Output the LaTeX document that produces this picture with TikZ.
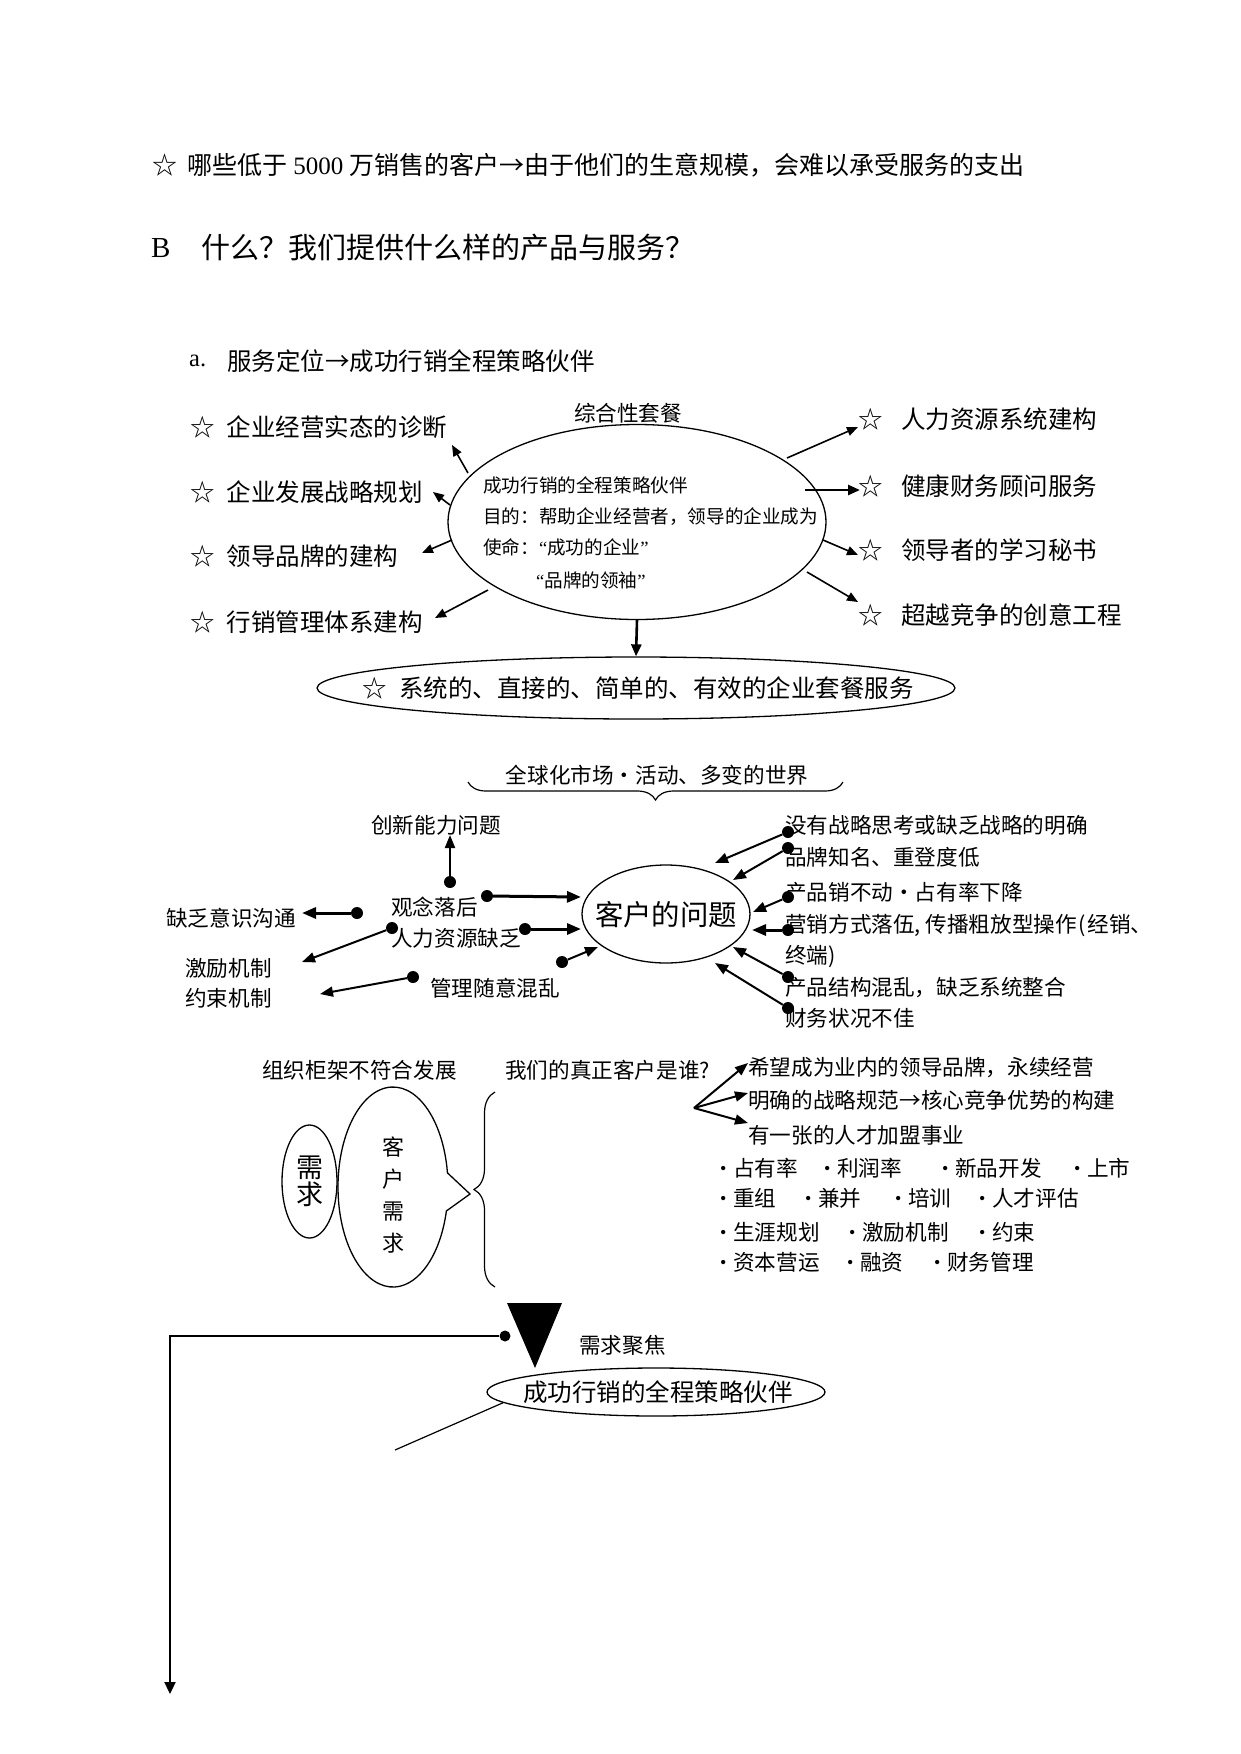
\documentclass[tikz,border=0pt]{standalone}
\usepackage{fontspec}
\setmainfont{Noto Sans CJK SC}
\newfontfamily\lat{Liberation Serif}
\usetikzlibrary{arrows.meta,shapes.geometric,shapes.callouts,decorations.pathreplacing}
\newcommand\fsA{\fontsize{24.5pt}{24.5pt}\selectfont}
\newcommand\fsH{\fontsize{25pt}{25pt}\selectfont}
\newcommand\fsB{\fontsize{29pt}{29pt}\selectfont}
\newcommand\fsS{\fontsize{21.6pt}{21.6pt}\selectfont}
\newcommand\fsT{\fontsize{18.6pt}{18.6pt}\selectfont}
\newcommand\fsP{\fontsize{28.4pt}{28.4pt}\selectfont}
\newcommand\bul{\makebox[13pt][l]{\raisebox{2pt}{\fontsize{18pt}{18pt}\selectfont\lat •}}}
\begin{document}
\begin{tikzpicture}[x=1pt,y=-1pt,
  txt/.style={inner sep=0pt,anchor=west},
  ctxt/.style={inner sep=0pt,anchor=center},
  arr/.style={line width=1.6pt,-{Triangle[length=11pt,width=9pt]}},
  arrb/.style={line width=2.6pt,-{Triangle[length=12pt,width=10pt]}},
  parr/.style={line width=2pt,-{Triangle[length=13pt,width=10pt]}},
  parrb/.style={line width=3pt,-{Triangle[length=14pt,width=11pt]}},
  dotn/.style={circle,fill,inner sep=0pt,minimum size=12pt},
  ell/.style={ellipse,draw,line width=1.3pt,inner sep=0pt},
  brc/.style={line width=1.2pt,decorate},
]
\useasboundingbox (0,0) rectangle (1241,1754);
\fill[white] (0,0) rectangle (1241,1754);

% ---------- header lines ----------
\node[txt,font=\fsH] (t1) at (152,165) {☆\hspace{0.4em}哪些低于\hspace{0.25em}{\lat 5000}\hspace{0.25em}万销售的客户→由于他们的生意规模，会难以承受服务的支出};
\node[txt,font={\fsB\lat}] (tB) at (151,248) {B};
\node[txt,font=\fsB] (tB2) at (201,248) {什么？我们提供什么样的产品与服务？};
\node[txt,font={\fsA\lat}] (ta) at (189,361) {a.};
\node[txt,font=\fsA] (ta2) at (227,361) {服务定位→成功行销全程策略伙伴};

% ---------- part 1 ----------
\node[ctxt,font=\fsS] (zh) at (628,413) {综合性套餐};
\node[ell,minimum width=378pt,minimum height=195pt] (E) at (637,522) {};
\node[txt,font=\fsT] (e1) at (483,485) {成功行销的全程策略伙伴};
\node[txt,font=\fsT] (e2) at (483,517) {目的：帮助企业经营者，领导的企业成为};
\node[txt,font=\fsT] (e3) at (483,547) {使命：{\lat “}成功的企业{\lat ”}};
\node[txt,font=\fsT] (e4) at (536,580) {{\lat “}品牌的领袖{\lat ”}};

\node[txt,font=\fsA] (L1) at (190,427) {☆\hspace{0.5em}企业经营实态的诊断};
\node[txt,font=\fsA] (L2) at (190,492) {☆\hspace{0.5em}企业发展战略规划};
\node[txt,font=\fsA] (L3) at (190,556) {☆\hspace{0.5em}领导品牌的建构};
\node[txt,font=\fsA] (L4) at (190,622) {☆\hspace{0.5em}行销管理体系建构};
\node[txt,font=\fsA] (R1) at (858,419) {☆\hspace{0.75em}人力资源系统建构};
\node[txt,font=\fsA] (R2) at (858,486) {☆\hspace{0.75em}健康财务顾问服务};
\node[txt,font=\fsA] (R3) at (858,550) {☆\hspace{0.75em}领导者的学习秘书};
\node[txt,font=\fsA] (R4) at (858,615) {☆\hspace{0.75em}超越竞争的创意工程};

\coordinate (l1s) at (468,473); \coordinate (l1e) at (452,445);
\coordinate (l2s) at (450,505); \coordinate (l2e) at (433,492);
\coordinate (l3s) at (452,540); \coordinate (l3e) at (422,553);
\coordinate (l4s) at (488,590); \coordinate (l4e) at (435,618);
\coordinate (r1s) at (787,458); \coordinate (r1e) at (858,427);
\coordinate (r2s) at (805,490); \coordinate (r2e) at (860,490);
\coordinate (r3s) at (823,540); \coordinate (r3e) at (858,555);
\coordinate (r4s) at (807,572); \coordinate (r4e) at (858,602);
\draw[arr] (l1s) -- (l1e);
\draw[arr] (l2s) -- (l2e);
\draw[arr] (l3s) -- (l3e);
\draw[arr] (l4s) -- (l4e);
\draw[arr] (r1s) -- (r1e);
\draw[arrb] (r2s) -- (r2e);
\draw[arr] (r3s) -- (r3e);
\draw[arr] (r4s) -- (r4e);

\node[ell,minimum width=638pt,minimum height=62pt] (S) at (636,688) {};
\node[ctxt,font=\fsA] (St) at (638,688) {☆\hspace{0.5em}系统的、直接的、简单的、有效的企业套餐服务};
\draw[arrb] (E.south) -- (S.north);

% ---------- part 2 ----------
\node[ctxt,font=\fsS] (gl) at (657,775) {全球化市场・活动、多变的世界};
\draw[brc,decoration={brace,mirror,amplitude=18pt}] (468,782) -- (843,782);

\node[ell,minimum width=168pt,minimum height=98pt] (P) at (666,914) {};
\node[ctxt,font=\fsP] (Pt) at (666,915) {客户的问题};

\node[ctxt,font=\fsS] (cx) at (436,825) {创新能力问题};
\node[txt,font=\fsS] (gn) at (391,907) {观念落后};
\node[txt,font=\fsS] (qf) at (166,918) {缺乏意识沟通};
\node[txt,font=\fsS] (rl) at (391,938) {人力资源缺乏};
\node[txt,font=\fsS] (jl) at (185,968) {激励机制};
\node[txt,font=\fsS] (ys) at (185,998) {约束机制};
\node[txt,font=\fsS] (gl2) at (430,988) {管理随意混乱};

\node[dotn] (d0) at (450,882) {};  \coordinate (d0e) at (450,835);
\node[dotn] (d1) at (487,896) {};  \coordinate (d1e) at (581,897);
\node[dotn] (d2) at (357,913) {};  \coordinate (d2e) at (302,913);
\node[dotn] (d3) at (392,928) {};  \coordinate (d3e) at (302,962);
\node[dotn] (d4) at (525,929) {};  \coordinate (d4e) at (581,929);
\node[dotn] (d5) at (413,977) {};  \coordinate (d5e) at (320,994);
\node[dotn] (d6) at (562,962) {};  \coordinate (d6e) at (598,947);
\draw[parr] (d0) -- (d0e);
\draw[parrb] (d1) -- (d1e);
\draw[parrb] (d2) -- (d2e);
\draw[parr] (d3) -- (d3e);
\draw[parrb] (d4) -- (d4e);
\draw[parr] (d5) -- (d5e);
\draw[parr] (d6) -- (d6e);

\node[txt,font=\fsS] (q1) at (785,825) {没有战略思考或缺乏战略的明确};
\node[txt,font=\fsS] (q2) at (785,857) {品牌知名、重登度低};
\node[txt,font=\fsS] (q3) at (785,892) {产品销不动・占有率下降};
\node[txt,font=\fsS] (q4) at (785,925) {营销方式落伍\makebox[0.5em][l]{,}传播粗放型操作\makebox[0.5em][c]{(}经销、};
\node[txt,font=\fsS] (q5) at (785,957) {终端)};
\node[txt,font=\fsS] (q6) at (785,988) {产品结构混乱，缺乏系统整合};
\node[txt,font=\fsS] (q7) at (785,1018) {财务状况不佳};

\node[dotn] (k1) at (788,832) {};  \coordinate (k1e) at (715,863);
\node[dotn] (k2) at (788,848) {};  \coordinate (k2e) at (733,880);
\node[dotn] (k3) at (788,897) {};  \coordinate (k3e) at (753,912);
\node[dotn] (k4) at (788,930) {};  \coordinate (k4e) at (752,930);
\node[dotn] (k5) at (788,977) {};  \coordinate (k5e) at (733,947);
\node[dotn] (k6) at (788,1008) {}; \coordinate (k6e) at (715,963);
\draw[parr] (k1) -- (k1e);
\draw[parr] (k2) -- (k2e);
\draw[parr] (k3) -- (k3e);
\draw[parrb] (k4) -- (k4e);
\draw[parr] (k5) -- (k5e);
\draw[parr] (k6) -- (k6e);

% ---------- part 3 ----------
\node[txt,font=\fsS] (zz) at (262,1070) {组织柜架不符合发展};
\node[txt,font=\fsS] (wm) at (505,1070) {我们的真正客户是谁?};

\coordinate (wo) at (694,1108);
\coordinate (w1e) at (748,1063);
\coordinate (w2e) at (748,1093);
\coordinate (w3e) at (748,1123);
\draw[parr] (wo) -- (w1e);
\draw[parr] (wo) -- (w2e);
\draw[parr] (wo) -- (w3e);
\node[txt,font=\fsS] (W1) at (748,1068) {希望成为业内的领导品牌，永续经营};
\node[txt,font=\fsS] (W2) at (748,1100) {明确的战略规范→核心竞争优势的构建};
\node[txt,font=\fsS] (W3) at (748,1135) {有一张的人才加盟事业};

\node[txt,font=\fsS] (b11) at (720,1168) {\bul 占有率};
\node[txt,font=\fsS] (b12) at (824,1168) {\bul 利润率};
\node[txt,font=\fsS] (b13) at (942,1168) {\bul 新品开发};
\node[txt,font=\fsS] (b14) at (1074,1168) {\bul 上市};
\node[txt,font=\fsS] (b21) at (720,1198) {\bul 重组};
\node[txt,font=\fsS] (b22) at (805,1198) {\bul 兼并};
\node[txt,font=\fsS] (b23) at (895,1198) {\bul 培训};
\node[txt,font=\fsS] (b24) at (979,1198) {\bul 人才评估};
\node[txt,font=\fsS] (b31) at (720,1232) {\bul 生涯规划};
\node[txt,font=\fsS] (b32) at (849,1232) {\bul 激励机制};
\node[txt,font=\fsS] (b33) at (979,1232) {\bul 约束};
\node[txt,font=\fsS] (b41) at (720,1262) {\bul 资本营运};
\node[txt,font=\fsS] (b42) at (847,1262) {\bul 融资};
\node[txt,font=\fsS] (b43) at (934,1262) {\bul 财务管理};

\node[ell,minimum width=55pt,minimum height=113pt] (N) at (309.5,1181.5) {};
\node[ctxt,font={\fontsize{27pt}{27pt}\selectfont},align=center] (Nt) at (309.5,1181.5) {需\\求};
\node[ellipse callout,draw,line width=1.3pt,inner sep=0pt,minimum width=110pt,minimum height=200pt,
      callout absolute pointer={(470,1194)},callout pointer arc=22] (C) at (393,1187) {};
\node[ctxt,font={\fontsize{22pt}{32pt}\selectfont},align=center] (Ct) at (393,1195) {客\\户\\需\\求};
\draw[brc,decoration={brace,amplitude=21pt}] (495,1287) -- (495,1092);

\fill (507,1303) -- (562,1303) -- (535,1368) -- cycle;
\node[dotn,minimum size=11pt] (fd) at (505,1336) {};
\coordinate (fc) at (170,1336);
\coordinate (fe) at (170,1694);
\draw[line width=2.2pt,-{Triangle[length=12pt,width=11pt]}] (fd) -- (fc) -- (fe);
\node[txt,font=\fsS] (jj) at (579,1345) {需求聚焦};
\node[ell,minimum width=338pt,minimum height=48pt] (F) at (656,1392) {};
\node[ctxt,font=\fsA] (Ft) at (658,1392) {成功行销的全程策略伙伴};
\coordinate (fl) at (395,1450);
\draw[line width=1.2pt] (F.184) -- (fl);
\end{tikzpicture}
\end{document}
